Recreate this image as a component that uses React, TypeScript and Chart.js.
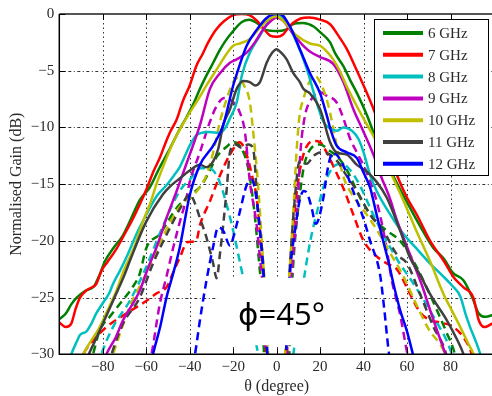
import React, { useEffect, useRef } from 'react';
import { Chart, registerables } from 'chart.js';

Chart.register(...registerables);

type Pt = [number, number];

const seriesLabels = ['6 GHz', '7 GHz', '8 GHz', '9 GHz', '10 GHz', '11 GHz', '12 GHz'];
const seriesColors = ['#008000', '#ff0000', '#00bfbf', '#bf00bf', '#bfbf00', '#404040', '#0000ff'];

const xTicks = [-80, -60, -40, -20, 0, 20, 40, 60, 80];
const yTicks = [0, -5, -10, -15, -20, -25, -30];
const xTitle = 'θ (degree)';
const yTitle = 'Normalised Gain (dB)';
const cutLabel = '\u03D5=45°';

// co-polar (solid) patterns: [theta (deg), gain (dB)]
const co6: Pt[] = [[-100,-26.9],[-97,-26.4],[-94.5,-25.6],[-92,-25],[-88,-24.4],[-84,-24],[-81.5,-23],[-79,-21.8],[-75,-20.6],[-71,-19.6],[-67.6,-18.3],[-63,-16.4],[-58.4,-15.3],[-54,-13.6],[-49.2,-11.9],[-45,-10.3],[-41.5,-9.1],[-38,-7.8],[-35.3,-6.6],[-32,-5.3],[-29.2,-4.3],[-26.5,-3.3],[-24,-2.5],[-20,-1.5],[-16,-0.7],[-12.5,-0.5],[-9,-0.8],[-5,-1.4],[0,-1.5],[4,-1.4],[7.5,-0.9],[12,-0.8],[17,-1.1],[20,-1.6],[24.6,-2.5],[27,-3.5],[30.7,-4.6],[34,-5.9],[37,-7],[41.5,-8.9],[44.5,-10.4],[50,-12.8],[55,-14.8],[60,-16.6],[66,-18.7],[72,-20.6],[77,-21.6],[81,-22.8],[86,-23.5],[90,-25],[93,-26.4],[96,-26.7],[100,-26.5]];
const co7: Pt[] = [[-100,-27.2],[-97,-27.6],[-94.5,-27.3],[-92.5,-26],[-90.5,-25],[-87,-24.3],[-83,-23.8],[-80.5,-22.6],[-78,-21.9],[-74,-20.8],[-70.8,-19.7],[-66,-18],[-63,-16.8],[-60,-15.5],[-56.5,-13.8],[-53.8,-12.7],[-51,-11.3],[-49,-10.4],[-46,-9.3],[-43,-7.6],[-40,-6.3],[-37,-4.6],[-34,-3.5],[-31.5,-2.5],[-28,-1.4],[-24,-0.6],[-20,-0.1],[-16,0],[-12.5,-0.1],[-9,-0.6],[-6,-1.3],[-3,-1.9],[0,-2],[3,-1.8],[5,-1.3],[7.5,-0.8],[11,-0.4],[15,-0.3],[20,-0.5],[24.6,-0.9],[28,-1.8],[32.3,-3.1],[36,-4.6],[38.6,-5.7],[44.6,-8.4],[50,-11.3],[55.3,-14.2],[60,-16.2],[64.5,-17.7],[70.6,-20],[77,-21.8],[81.4,-23.2],[86,-24.1],[90.5,-25],[93,-27],[95.5,-27.6],[100,-27.2]];
const co8: Pt[] = [[-96,-31],[-94.5,-30],[-92,-28.9],[-90.5,-28.3],[-87.6,-28],[-85,-27.2],[-83,-26.4],[-80,-25.5],[-77,-24.6],[-75.3,-23.8],[-72,-22.6],[-69,-21.4],[-64,-19.2],[-60,-17.7],[-55,-16],[-50.7,-15.1],[-47.5,-14.3],[-44.6,-13.5],[-40,-11.6],[-37,-10.7],[-35,-10.5],[-31,-10.4],[-26,-10.5],[-23.5,-10],[-21.5,-9.2],[-18.4,-7.8],[-16,-5.4],[-12.3,-3.4],[-7.7,-1.9],[-3,-0.5],[0.5,0],[4.6,-0.8],[9.2,-2.5],[13.8,-4.8],[18.4,-7.8],[21.5,-9.5],[24.6,-10.1],[27.6,-10.3],[30.7,-10],[34.6,-10.3],[37.6,-11],[40,-12.2],[43,-14.2],[46,-15.6],[52,-17.6],[58,-19.3],[64,-20.6],[70.6,-22],[77,-23.2],[81,-24],[84.5,-24.9],[87,-26.5],[89,-27.6],[91.5,-28.8],[93.7,-30],[95,-31]];
const co9: Pt[] = [[-80,-31],[-78.3,-30],[-74,-28.5],[-70.7,-27],[-67,-25.8],[-63,-24.4],[-59,-22.3],[-55.3,-20.6],[-50.7,-18],[-46,-15.6],[-43,-14],[-40,-12.4],[-35.3,-9.8],[-30.7,-6.6],[-26,-5.2],[-21.5,-4.3],[-18.4,-4],[-13.8,-3.4],[-10,-2.5],[-6,-1.3],[-2,-0.5],[0,-0.3],[3,-0.6],[7,-1.6],[12.3,-2.8],[16,-3.4],[20,-3.8],[26,-4.4],[30.7,-6],[35.3,-8.4],[40,-10.4],[44.5,-12.4],[48,-14.3],[52,-16.2],[55,-18],[58.3,-19.7],[63,-22],[67,-24],[70.6,-26.1],[74,-28],[77.6,-30],[79,-31]];
const co10: Pt[] = [[-91,-31],[-89,-30],[-86,-29],[-81.4,-27.6],[-77,-25.8],[-73.5,-24.3],[-70.7,-22.8],[-65,-20.3],[-61.5,-18.3],[-58,-16.6],[-55.3,-15],[-51.5,-13.1],[-47.6,-11.3],[-44,-10],[-40,-8.7],[-36,-7.5],[-32.3,-6.3],[-29,-5.3],[-26,-4.4],[-23,-3.5],[-20,-2.8],[-16.9,-2.6],[-12.3,-2.2],[-7.7,-1.2],[-3,-0.4],[0,-0.2],[4,-0.8],[9.2,-1.9],[15.3,-2.6],[20,-2.8],[23,-3.3],[26,-4],[29,-5],[32.3,-6.4],[36,-7.8],[39.9,-9.2],[46,-11.3],[52,-13.8],[58,-16.3],[64,-19],[70.6,-21.8],[76.8,-24.7],[80.5,-26.1],[84.5,-27.6],[88,-29],[90.6,-30],[92,-31]];
const co11: Pt[] = [[-88,-31],[-86.4,-30],[-84,-29],[-81.4,-27.9],[-75.3,-25.3],[-70,-23],[-67.6,-21.8],[-60,-18.3],[-52.3,-15.9],[-49,-15.2],[-44.6,-14.5],[-40,-13.8],[-35.3,-13.3],[-32.3,-13.5],[-29.2,-13],[-26.9,-11.9],[-24.6,-9.8],[-21.5,-8.4],[-18.4,-6.6],[-15.4,-5.9],[-12.3,-6],[-10,-6.3],[-7.7,-6],[-4.6,-4.3],[-2,-3.4],[0,-3.1],[2,-3.4],[4.6,-4],[7.6,-5.2],[10.7,-6],[12.3,-6.6],[15.3,-7],[20,-8.4],[24.6,-11.3],[27.6,-12.2],[32.3,-12.4],[36.9,-13.3],[41.5,-13.9],[46,-14.8],[50.7,-16.2],[56.8,-19.1],[61.4,-21.5],[66,-23],[70.6,-24.7],[78.3,-27],[83,-28.7],[86,-30],[87.5,-31]];
const co12: Pt[] = [[-58,-31],[-56.9,-30],[-53.5,-27.5],[-50.7,-25],[-47.5,-22.8],[-44.6,-20.6],[-40,-16],[-35.3,-13.3],[-29.2,-11.6],[-24.6,-9.8],[-20,-6.3],[-17.7,-4.9],[-13.8,-2.8],[-9.2,-1.4],[-4.6,-0.35],[-0.5,0],[1.5,0],[6.1,-1.1],[10.7,-3.1],[15.3,-5.2],[20,-7],[23,-8.9],[25,-10.3],[27.6,-11.6],[32.3,-12.2],[36.9,-12.7],[40,-14],[43,-15.3],[46,-17.7],[49,-20],[51.4,-21.8],[54,-24],[56.8,-26.1],[60,-28],[62.7,-30],[64,-31]];

// cross-polar (dashed) patterns
const x6: Pt[] = [[-86,-31],[-84.5,-30],[-81.4,-27.9],[-76.8,-26.7],[-70.7,-25.2],[-66,-24],[-63,-22.9],[-59.9,-20.6],[-53.8,-19.4],[-46,-17.1],[-40,-16],[-34.6,-15.1],[-30,-13.5],[-27.6,-12.6],[-23,-11.7],[-20,-11.3],[-17,-11.6],[-13.1,-13.6],[-10.5,-17],[-8.5,-21],[-6.5,-26],[-5.5,-31],[5.5,-31],[6.5,-26],[8,-21],[10,-17],[12.5,-13.5],[16,-11.8],[20,-11.5],[24,-12],[29,-12.8],[33,-14],[38.4,-16.2],[44.5,-18],[50,-19],[56.8,-20],[63,-21.8],[69,-24.1],[73.7,-26.1],[78,-28],[82,-30],[83,-31]];
const x7: Pt[] = [[-91,-31],[-89,-30],[-84.5,-28.8],[-78.3,-27.6],[-70,-26.5],[-60,-25.3],[-55,-24.6],[-50.7,-24.1],[-47,-22.5],[-44.6,-21.5],[-41,-20.1],[-37,-20],[-35.3,-18.6],[-30.7,-16.5],[-26,-14.2],[-21.5,-12.4],[-17,-11.3],[-14,-12.3],[-11,-14.5],[-9.2,-16.2],[-7.7,-19.1],[-6.9,-21.5],[-5.5,-25],[-4.5,-31],[4.5,-31],[5.5,-25],[6.8,-21],[8.5,-17],[10.5,-14],[13,-12],[17,-11.2],[20,-11.3],[23,-12.2],[27,-13.8],[31,-15.5],[35.3,-17.7],[40,-20],[45,-21.2],[50.7,-22],[55.3,-22.5],[61.4,-24.7],[66,-26.3],[70.6,-27],[75.3,-27.2],[81.4,-27.6],[87.6,-29],[89.8,-30],[91,-31]];
const x8: Pt[] = [[-82,-31],[-80.6,-30],[-75.3,-27.6],[-67.6,-25.3],[-60,-22.3],[-53,-19],[-44.6,-15.6],[-40,-14.6],[-35,-13.6],[-31,-13.6],[-26.9,-14.5],[-23,-16.8],[-20,-19.1],[-17,-21.8],[-14,-24.5],[-11,-27.5],[-8.5,-30],[-7.5,-31],[7,-31],[8,-29.5],[10.5,-26],[13,-22.8],[15.5,-20],[18.5,-17.5],[22,-15],[26,-13.5],[30,-13.2],[34,-13.8],[38,-15],[44,-17.5],[50,-19.8],[56,-21.8],[62,-23.5],[68,-25.3],[74,-27.3],[78,-28.7],[80.6,-30],[82,-31]];
const x9: Pt[] = [[-59,-31],[-57.6,-30],[-53.8,-25.6],[-50.5,-23],[-47.6,-20.6],[-44.5,-18.3],[-41.5,-16.2],[-40,-14.8],[-35.3,-12.2],[-30.7,-9.5],[-27.6,-8.1],[-24,-7.4],[-21,-7.6],[-16.9,-8.7],[-14.6,-10.4],[-12.3,-14.8],[-9.2,-18.6],[-7.7,-21.5],[-6,-25],[-4.5,-31],[4.5,-31],[6,-25],[7.5,-21.5],[9.5,-17],[11,-12],[13,-9],[16,-7.5],[20,-6.9],[23,-7.2],[27.6,-7.8],[30.7,-9.2],[33.8,-11],[36.9,-12.2],[41.5,-14],[46,-16.5],[50,-20],[53,-23.5],[56.8,-26.5],[60.2,-30],[61.5,-31]];
const x10: Pt[] = [[-77,-31],[-75.3,-30],[-67.6,-25.8],[-60,-22.9],[-52,-19.5],[-44.6,-17],[-38.4,-16],[-32.3,-14.2],[-29.2,-12.2],[-26.1,-9.5],[-23,-7.5],[-20,-6],[-17.5,-5.6],[-15,-6.3],[-12.3,-7.8],[-10.8,-10.4],[-9,-14],[-7.5,-18],[-6,-22.5],[-4.5,-27],[-3.5,-31],[3.5,-31],[4.5,-27],[6,-22.5],[7.5,-18],[9.2,-12],[10.5,-9],[12.3,-7.5],[15.3,-5.9],[18,-5.5],[20,-6],[23,-7.5],[26,-10],[29,-13],[31,-14.5],[35,-16],[40,-17.3],[46,-19],[52,-21],[58,-23],[64,-25.5],[70,-27.8],[77.6,-30],[79,-31]];
const x11: Pt[] = [[-77.5,-31],[-76,-30],[-70.7,-27.3],[-63,-25],[-56.9,-22],[-49.2,-18.9],[-44,-17],[-40,-15.9],[-38,-16.5],[-35.3,-18],[-32.3,-19.7],[-29.2,-22],[-27.6,-23.3],[-26,-21],[-24.6,-18.6],[-23,-15.5],[-21.5,-12.2],[-19,-11.5],[-16,-11.8],[-13,-11.5],[-10.8,-11.9],[-8.5,-17.7],[-6.2,-22],[-5,-26],[-4,-31],[4,-31],[5,-26],[6.5,-21],[8.5,-16],[10.5,-13],[13.8,-13.2],[17,-12.5],[20,-12.2],[24.6,-12.4],[28,-13],[32,-14.2],[36.9,-15.6],[43,-17.7],[49.1,-19.1],[55.3,-21.2],[60,-22],[66,-24.7],[72.2,-27.6],[78,-30],[79,-31]];
const x12: Pt[] = [[-39,-31],[-37.6,-30],[-35.3,-27],[-32.3,-23.5],[-29.2,-20.5],[-26.9,-18.8],[-24.6,-19.1],[-21.5,-20.4],[-19,-19],[-16.9,-17.4],[-13.8,-15.1],[-11.5,-14.6],[-9.5,-16],[-7.7,-19],[-6.2,-22.6],[-5,-26],[-4,-31],[4,-31],[5,-26],[6.5,-22],[8.5,-19],[10.5,-16.5],[12.5,-15.6],[14,-15.8],[16,-17],[18,-18.5],[21.5,-16.2],[23,-14.2],[24.6,-12.7],[26,-12.2],[28,-12.5],[31,-13.5],[35,-15.5],[39.9,-18],[43,-20],[47.6,-23],[49.5,-26],[51.4,-29.5],[52.5,-31]];

const coPol = [co6, co7, co8, co9, co10, co11, co12];
const crossPol = [x6, x7, x8, x9, x10, x11, x12];

const SERIF = "'Liberation Serif', 'Times New Roman', serif";
const TEXT = '#2a2a2a';

const toXY = (a: Pt[]) => a.map(([x, y]) => ({ x, y }));
const minus = (v: number) => (v < 0 ? '\u2212' + Math.abs(v) : String(v));

const framePlugin = {
  id: 'frame',
  beforeDatasetsDraw(chart: any) {
    const { ctx, chartArea: a, scales } = chart;
    const xs = scales.x, ys = scales.y;
    ctx.save();
    ctx.strokeStyle = '#333';
    ctx.lineWidth = 1;
    ctx.setLineDash([1.5, 3]);
    for (const v of xTicks) {
      const px = Math.round(xs.getPixelForValue(v)) + 0.5;
      ctx.beginPath(); ctx.moveTo(px, a.top); ctx.lineTo(px, a.bottom); ctx.stroke();
    }
    ctx.setLineDash([3, 2.5, 1, 2.5]);
    for (const v of yTicks) {
      if (v === 0 || v === -30) continue;
      const py = Math.round(ys.getPixelForValue(v)) + 0.5;
      ctx.beginPath(); ctx.moveTo(a.left, py); ctx.lineTo(a.right, py); ctx.stroke();
    }
    ctx.restore();
  },
  afterDatasetsDraw(chart: any) {
    const { ctx, chartArea: a, scales } = chart;
    const xs = scales.x, ys = scales.y;
    ctx.save();
    // white label box with the cut angle
    const bx0 = xs.getPixelForValue(-27.1), bx1 = xs.getPixelForValue(35.2);
    const by0 = ys.getPixelForValue(-23.25), by1 = ys.getPixelForValue(-29.2);
    ctx.fillStyle = '#fff';
    ctx.fillRect(bx0, by0, bx1 - bx0, by1 - by0);
    ctx.fillStyle = '#000';
    ctx.font = "31px 'Open Sans', 'DejaVu Sans', sans-serif";
    ctx.textAlign = 'center';
    ctx.textBaseline = 'alphabetic';
    ctx.fillText(cutLabel, (bx0 + bx1) / 2 - 4, by1 - 20);

    // legend
    const lw = 114, lh = 156;
    const lx = a.right - 120, ly = a.top + 5;
    ctx.fillStyle = '#fff';
    ctx.fillRect(lx, ly, lw, lh);
    ctx.strokeStyle = '#000';
    ctx.lineWidth = 1;
    ctx.strokeRect(Math.round(lx) + 0.5, Math.round(ly) + 0.5, lw, lh);
    ctx.font = `15px ${SERIF}`;
    ctx.textAlign = 'left';
    ctx.textBaseline = 'middle';
    seriesLabels.forEach((lab, i) => {
      const cy = ly + 15 + i * 21.8;
      ctx.strokeStyle = seriesColors[i];
      ctx.lineWidth = 4;
      ctx.beginPath(); ctx.moveTo(lx + 9, cy - 1); ctx.lineTo(lx + 49, cy - 1); ctx.stroke();
      ctx.fillStyle = TEXT;
      ctx.fillText(lab, lx + 54, cy);
    });

    // axes and inner tick marks
    ctx.strokeStyle = '#555';
    ctx.lineWidth = 2;
    ctx.beginPath(); ctx.moveTo(a.left, a.top); ctx.lineTo(a.right, a.top); ctx.stroke();
    ctx.strokeStyle = '#000';
    ctx.lineWidth = 1.5;
    ctx.beginPath(); ctx.moveTo(a.left, a.top); ctx.lineTo(a.left, a.bottom); ctx.lineTo(a.right, a.bottom); ctx.stroke();
    ctx.lineWidth = 1;
    for (const v of xTicks) {
      const px = Math.round(xs.getPixelForValue(v)) + 0.5;
      ctx.beginPath(); ctx.moveTo(px, a.bottom); ctx.lineTo(px, a.bottom - 6); ctx.stroke();
      ctx.beginPath(); ctx.moveTo(px, a.top); ctx.lineTo(px, a.top + 6); ctx.stroke();
    }
    for (const v of yTicks) {
      const py = Math.round(ys.getPixelForValue(v)) + 0.5;
      ctx.beginPath(); ctx.moveTo(a.left, py); ctx.lineTo(a.left + 6, py); ctx.stroke();
    }
    ctx.restore();
  },
};

export default function App() {
  const ref = useRef<HTMLCanvasElement>(null);
  useEffect(() => {
    const canvas = ref.current;
    if (!canvas) return;
    const datasets: any[] = [
      ...coPol.map((d, i) => ({
        label: seriesLabels[i],
        data: toXY(d),
        borderColor: seriesColors[i],
        backgroundColor: seriesColors[i],
        borderWidth: 2.5,
        pointRadius: 0,
        cubicInterpolationMode: 'monotone',
        borderJoinStyle: 'round',
        fill: false,
        order: 7 - i,
      })),
      ...crossPol.map((d, i) => ({
        label: seriesLabels[i] + ' cross-pol',
        data: toXY(d),
        borderColor: seriesColors[i],
        backgroundColor: seriesColors[i],
        borderWidth: 2.5,
        borderDash: [8, 5],
        pointRadius: 0,
        cubicInterpolationMode: 'monotone',
        fill: false,
        order: 15 - i,
      })),
    ];
    const chart = new Chart(canvas, {
      type: 'line',
      data: { datasets },
      options: {
        animation: false,
        responsive: false,
        devicePixelRatio: 1,
        layout: { padding: { top: 11, right: 2, left: 0, bottom: 0 } },
        plugins: { legend: { display: false }, tooltip: { enabled: false } },
        scales: {
          x: {
            type: 'linear',
            min: -100,
            max: 100,
            afterBuildTicks: (s: any) => { s.ticks = xTicks.map((v) => ({ value: v })); },
            afterFit: (s: any) => { s.height = 41.7; },
            grid: { display: false, drawTicks: false },
            border: { display: false },
            ticks: {
              autoSkip: false,
              maxRotation: 0,
              padding: 4,
              color: TEXT,
              font: { family: SERIF, size: 15 },
              callback: (v: any) => minus(Number(v)),
            },
            title: { display: true, text: xTitle, color: TEXT, font: { family: SERIF, size: 16 }, padding: { top: 0, bottom: 0 } },
          },
          y: {
            type: 'linear',
            min: -30,
            max: 0,
            afterBuildTicks: (s: any) => { s.ticks = yTicks.map((v) => ({ value: v })); },
            afterFit: (s: any) => { s.width = 59.3; },
            grid: { display: false, drawTicks: false },
            border: { display: false },
            ticks: {
              autoSkip: false,
              padding: 5,
              color: TEXT,
              font: { family: SERIF, size: 15 },
              callback: (v: any) => minus(Number(v)),
            },
            title: { display: true, text: yTitle, color: TEXT, font: { family: SERIF, size: 16 }, padding: { top: 7, bottom: 0 } },
          },
        },
      },
      plugins: [framePlugin],
    } as any);
    return () => chart.destroy();
  }, []);
  return (
    <div style={{ position: 'fixed', left: 0, top: 0, width: 492, height: 396, overflow: 'hidden', background: '#fff' }}>
      <canvas ref={ref} width={496} height={396} style={{ display: 'block', width: 496, height: 396 }} />
    </div>
  );
}
